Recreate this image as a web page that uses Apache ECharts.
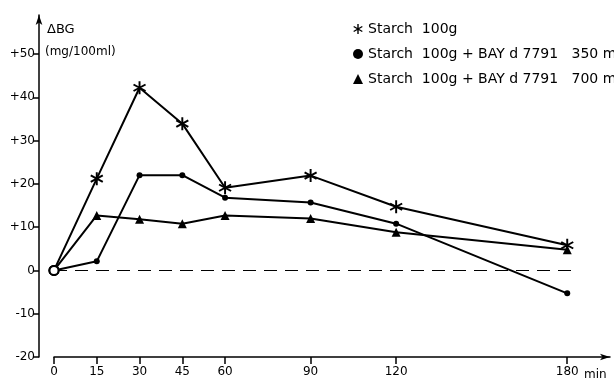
<!DOCTYPE html>
<html><head><meta charset="utf-8">
<script src="https://cdn.jsdelivr.net/npm/echarts@6/dist/echarts.min.js"></script>
<style>html,body{margin:0;padding:0;background:#fff}#c{width:614px;height:384px}</style>
</head><body><div id="c"></div>
<script>
const times = [0, 15, 30, 45, 60, 90, 120, 180];
const starch = [0, 21.2, 42.2, 33.9, 19.1, 21.9, 14.7, 5.8];
const bay350 = [0, 2.1, 22, 22, 16.8, 15.7, 10.8, -5.3];
const bay700 = [0, 12.7, 11.8, 10.8, 12.7, 12, 8.8, 4.8];
const yTicks = [-20, -10, 0, 10, 20, 30, 40, 50];
const names = ['Starch  100g', 'Starch  100g + BAY d 7791   350 mg', 'Starch  100g + BAY d 7791   700 mg'];

const star = 'path://M0.86 0L1.14 0L1.14 2L0.86 2Z M1.796 0.379L1.936 0.621L0.204 1.621L0.064 1.379Z M0.064 0.621L0.204 0.379L1.936 1.379L1.796 1.621Z';
const symbols = [star, 'circle', 'triangle'];
const sizes = [13, 6, 9];
const font = '"DejaVu Sans", sans-serif';

function mk(vals, i) {
  return {
    name: names[i], type: 'line', clip: false,
    symbol: symbols[i], symbolSize: sizes[i],
    lineStyle: {color: '#000', width: 2},
    itemStyle: {color: '#000'},
    z: 3 + i,
    data: vals.map((v, k) => k === 0
      ? {value: [times[k], v], symbol: 'emptyCircle', symbolSize: 9, itemStyle: {color: '#000', borderWidth: 2}}
      : [times[k], v])
  };
}
const series = [mk(starch, 0), mk(bay350, 1), mk(bay700, 2)];
series[0].markLine = {
  silent: true, symbol: 'none', label: {show: false},
  lineStyle: {color: '#000', type: [13, 8], width: 1.2},
  data: [[{coord: [0, 0]}, {coord: [184, 0]}]]
};

const chart = echarts.init(document.getElementById('c'), null, {renderer: 'canvas'});
chart.setOption({
  animation: false,
  backgroundColor: '#fff',
  grid: {left: 54, right: 4, top: 15, bottom: 27, containLabel: false},
  xAxis: {
    type: 'value', min: 0, max: 195,
    axisLine: {onZero: false, lineStyle: {color: '#000', width: 1.5}, symbol: ['none', 'arrow'], symbolSize: [5, 10]},
    axisTick: {customValues: times, length: 7, lineStyle: {color: '#000', width: 1.5}},
    axisLabel: {customValues: times, color: '#000', fontSize: 12, fontFamily: font, margin: 9},
    splitLine: {show: false}
  },
  yAxis: {
    type: 'value', min: -20, max: 59, offset: 15,
    axisLine: {show: true, onZero: false, lineStyle: {color: '#000', width: 1.5}, symbol: ['none', 'arrow'], symbolSize: [5, 10]},
    axisTick: {show: true, customValues: yTicks, length: 6, lineStyle: {color: '#000', width: 1.5}},
    axisLabel: {customValues: yTicks, color: '#000', fontSize: 12, fontFamily: font, margin: 4,
      formatter: v => v > 0 ? '+' + v : (v < 0 ? '-' + Math.abs(v) : '' + v)},
    splitLine: {show: false}
  },
  legend: {
    orient: 'vertical', left: 348, top: 17, itemGap: 11, itemWidth: 10, itemHeight: 10,
    textStyle: {color: '#000', fontSize: 14, fontFamily: font},
    data: names.map((n, i) => ({name: n, icon: symbols[i]})),
    itemStyle: {color: '#000'}
  },
  graphic: [
    {type: 'text', left: 47, top: 23, style: {text: '\u0394BG', fill: '#000', font: '13px ' + font}},
    {type: 'text', left: 45, top: 46, style: {text: '(mg/100ml)', fill: '#000', font: '12px ' + font}},
    {type: 'text', left: 584, top: 369, style: {text: 'min', fill: '#000', font: '12px ' + font}}
  ],
  series: series
});
</script></body></html>
